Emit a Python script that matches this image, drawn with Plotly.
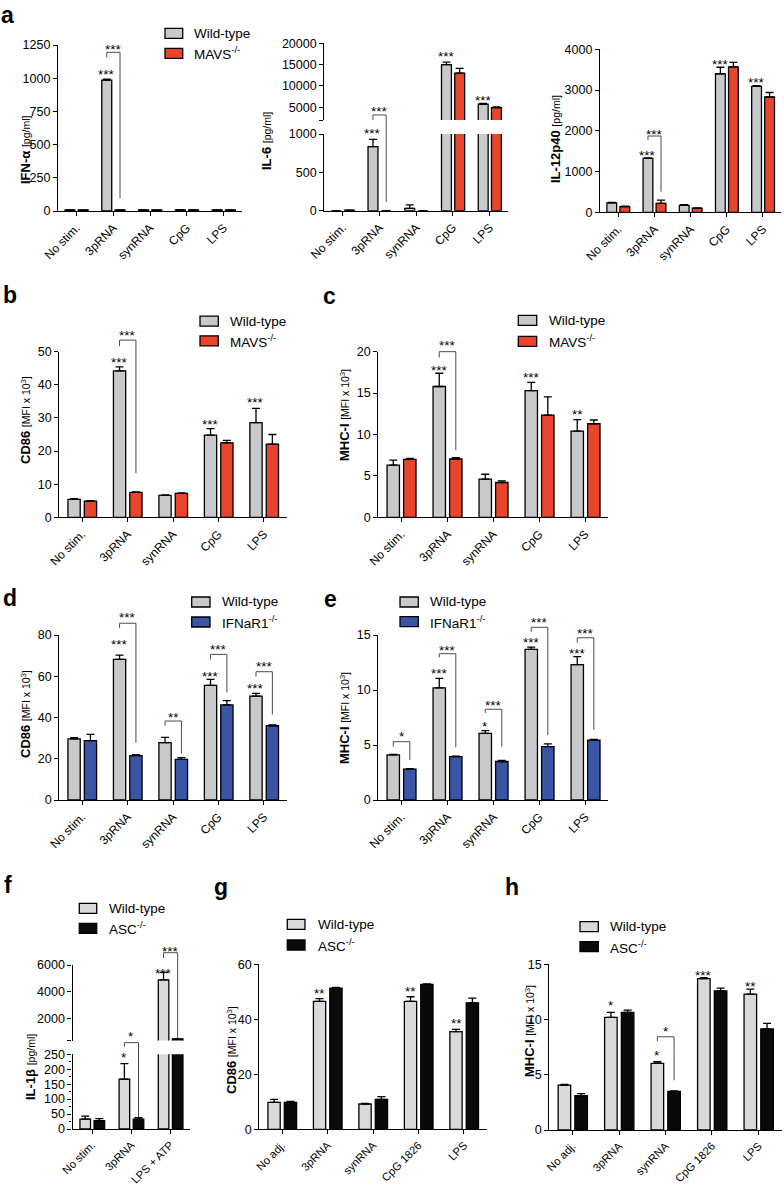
import plotly.graph_objects as go

W, H = 784, 1187
FONT = "Liberation Sans, Arial, Helvetica, sans-serif"

# ------------------------------------------------------------------ data
cats_stim = ["No stim.", "3pRNA", "synRNA", "CpG", "LPS"]
cats_f = ["No stim.", "3pRNA", "LPS + ATP"]
cats_adj = ["No adj.", "3pRNA", "synRNA", "CpG 1826", "LPS"]

# panel a : IFN-alpha, IL-6, IL-12p40 [pg/ml], Wild-type vs MAVS-/-
ifna_wt = [8, 985, 8, 8, 8]
ifna_wt_err = [0, 8, 0, 0, 0]
ifna_ko = [8, 8, 8, 8, 8]
ifna_ko_err = [0, 0, 0, 0, 0]

il6_wt = [0, 835, 30, 15000, 5700]
il6_wt_err = [0, 95, 45, 600, 200]
il6_ko = [8, 0, 0, 13000, 4900]
il6_ko_err = [0, 0, 0, 1100, 150]

il12_wt = [230, 1325, 172, 3400, 3090]
il12_wt_err = [10, 10, 15, 160, 20]
il12_ko = [140, 220, 100, 3570, 2830]
il12_ko_err = [10, 80, 10, 110, 110]

# panel b : CD86 [MFI x 10^3], WT vs MAVS-/-
cd86_b_wt = [5.4, 44.2, 6.6, 24.8, 28.6]
cd86_b_wt_err = [0.2, 1.2, 0.2, 2.0, 4.3]
cd86_b_ko = [4.9, 7.5, 7.2, 22.5, 22.1]
cd86_b_ko_err = [0.1, 0.2, 0.2, 0.7, 2.9]

# panel c : MHC-I [MFI x 10^3], WT vs MAVS-/-
mhc_c_wt = [6.3, 15.8, 4.6, 15.3, 10.4]
mhc_c_wt_err = [0.6, 1.6, 0.6, 1.0, 1.4]
mhc_c_ko = [7.0, 7.04, 4.2, 12.35, 11.3]
mhc_c_ko_err = [0.1, 0.15, 0.2, 2.2, 0.45]

# panel d : CD86, WT vs IFNaR1-/-
cd86_d_wt = [29.6, 68.2, 27.8, 55.6, 50.4]
cd86_d_wt_err = [0.6, 2.0, 2.6, 2.9, 1.3]
cd86_d_ko = [28.8, 21.5, 19.7, 46.1, 36.0]
cd86_d_ko_err = [3.0, 0.5, 0.8, 2.1, 0.4]

# panel e : MHC-I, WT vs IFNaR1-/-
mhc_e_wt = [4.1, 10.2, 6.06, 13.7, 12.3]
mhc_e_wt_err = [0.05, 0.85, 0.25, 0.2, 0.73]
mhc_e_ko = [2.8, 3.94, 3.5, 4.85, 5.45]
mhc_e_ko_err = [0.05, 0.05, 0.1, 0.25, 0.05]

# panel f : IL-1beta [pg/ml], WT vs ASC-/-
il1b_wt = [33, 167, 4900]
il1b_wt_err = [10, 52, 550]
il1b_ko = [28, 33, 520]
il1b_ko_err = [7, 5, 0]

# panel g : CD86, WT vs ASC-/-
cd86_g_wt = [9.8, 46.5, 9.2, 46.5, 35.5]
cd86_g_wt_err = [1.1, 1.0, 0.2, 1.7, 0.85]
cd86_g_ko = [9.8, 51.3, 10.9, 52.7, 46.0]
cd86_g_ko_err = [0.3, 0.3, 1.0, 0.2, 1.7]

# panel h : MHC-I, WT vs ASC-/-
mhc_h_wt = [4.07, 10.2, 6.03, 13.7, 12.3]
mhc_h_wt_err = [0.05, 0.45, 0.15, 0.1, 0.45]
mhc_h_ko = [3.1, 10.65, 3.5, 12.6, 9.15]
mhc_h_ko_err = [0.2, 0.2, 0.05, 0.25, 0.5]

# y tick values
ticks_ifna = [0, 250, 500, 750, 1000, 1250]
ticks_il6_lo = [0, 500, 1000]
ticks_il6_hi = [5000, 10000, 15000, 20000]
break_il6 = [2000]
ticks_il12 = [0, 1000, 2000, 3000, 4000]
ticks_b = [0, 10, 20, 30, 40, 50]
ticks_c = [0, 5, 10, 15, 20]
ticks_d = [0, 20, 40, 60, 80]
ticks_e = [0, 5, 10, 15]
ticks_f_lo = [0, 50, 100, 150, 200, 250]
ticks_f_lo_minor = [25, 75, 125, 175, 225]
ticks_f_hi = [2000, 4000, 6000]
break_f = [400]
ticks_g = [0, 20, 40, 60]
ticks_h = [0, 5, 10, 15]

# ------------------------------------------------------------------ style
GRAY = "#c8c9cb"
GRAY_L = "#d9d9d9"
RED = "#e8452d"
BLUE = "#3a55a5"
BLACK = "#0a0a0a"
BW, WT_OFF, KO_OFF = 0.27, -0.31, 0.05

fig = go.Figure()
axes = {}
lay = {}


def add_axis(n, xdom, ydom, yrange, tickvals, cats, show_x=True, minor=None, minorlen=2,
             xfont=12):
    xa, ya = ("x", "y") if n == 1 else (f"x{n}", f"y{n}")
    xk, yk = ("xaxis", "yaxis") if n == 1 else (f"xaxis{n}", f"yaxis{n}")
    lay[xk] = dict(domain=[xdom[0] / W, xdom[1] / W], range=[-0.5, len(cats) - 0.5],
                   anchor=ya, tickmode="array", tickvals=list(range(len(cats))), ticktext=cats,
                   tickangle=-45, ticks="outside", ticklen=4, tickwidth=1.2, tickcolor="black",
                   showline=True, linecolor="black", linewidth=1.3, showgrid=False,
                   zeroline=False, visible=show_x, automargin=False,
                   tickfont=dict(family=FONT, size=xfont, color="black"))
    yd = dict(domain=[1 - ydom[0] / H, 1 - ydom[1] / H], range=yrange, anchor=xa,
              tickmode="array", tickvals=tickvals, ticktext=[str(v) for v in tickvals],
              ticks="outside", ticklen=4, tickwidth=1.2, tickcolor="black", showline=True,
              linecolor="black", linewidth=1.3, showgrid=False, zeroline=False,
              automargin=False, tickfont=dict(family=FONT, size=12.5, color="black"))
    if minor:
        yd["minor"] = dict(tickvals=minor, ticks="outside", ticklen=minorlen, tickwidth=1.2,
                           tickcolor="black", showgrid=False)
    lay[yk] = yd
    axes[n] = dict(xa=xa, ya=ya, ydom=ydom, yrange=yrange)


def add_bars(n, wt, wterr, ko, koerr, c_wt, c_ko):
    xs = list(range(len(wt)))
    for vals, errs, off, col in ((wt, wterr, WT_OFF, c_wt), (ko, koerr, KO_OFF, c_ko)):
        fig.add_trace(go.Bar(
            x=xs, y=vals, width=BW, offset=off,
            marker=dict(color=col, line=dict(color="black", width=1.3)),
            error_y=dict(type="data", symmetric=False, array=errs,
                         arrayminus=[0] * len(vals), color="black", thickness=1.3, width=4),
            xaxis=axes[n]["xa"], yaxis=axes[n]["ya"], showlegend=False, hoverinfo="skip"))


def yp(n, v):
    a = axes[n]
    p0, p1 = a["ydom"]
    r0, r1 = a["yrange"]
    return 1 - (p0 + (v - r0) / (r1 - r0) * (p1 - p0)) / H


wt_c = lambda i: i + WT_OFF + BW / 2
ko_c = lambda i: i + KO_OFF + BW / 2

annotations = []
shapes = []


def star(n, i, v, text):
    annotations.append(dict(x=wt_c(i), y=yp(n, v), xref=axes[n]["xa"], yref="paper",
                            text=text, showarrow=False, xanchor="center", yanchor="middle",
                            yshift=-3, font=dict(family=FONT, size=13.5, color="black")))


def bracket(n, i, ytop, yl, yr, text, ylab):
    x0, x1 = wt_c(i), ko_c(i)
    shapes.append(dict(type="path", xref=axes[n]["xa"], yref="paper",
                       path=f"M{x0},{yp(n, yl)} L{x0},{yp(n, ytop)} L{x1},{yp(n, ytop)} L{x1},{yp(n, yr)}",
                       line=dict(color="#4a4a4a", width=1)))
    annotations.append(dict(x=(x0 + x1) / 2, y=yp(n, ylab), xref=axes[n]["xa"], yref="paper",
                            text=text, showarrow=False, xanchor="center", yanchor="middle",
                            yshift=-3, font=dict(family=FONT, size=13.5, color="black")))


def legend(bx0, bx1, yc1, yc2, tx, c1, c2, t1, t2):
    for yc, col, t in ((yc1, c1, t1), (yc2, c2, t2)):
        shapes.append(dict(type="rect", xref="paper", yref="paper", x0=bx0 / W, x1=bx1 / W,
                           y0=1 - (yc - 5) / H, y1=1 - (yc + 5) / H, fillcolor=col,
                           line=dict(color="black", width=1.3)))
        annotations.append(dict(x=tx / W, y=1 - yc / H, xref="paper", yref="paper", text=t,
                                showarrow=False, xanchor="left", yanchor="middle",
                                font=dict(family=FONT, size=13.5, color="black")))


def ytitle(x, y, bold, rest):
    annotations.append(dict(x=x / W, y=1 - y / H, xref="paper", yref="paper", textangle=-90,
                            text=f"<b>{bold}</b> <span style='font-size:10.5px'>{rest}</span>",
                            showarrow=False, xanchor="center", yanchor="middle",
                            font=dict(family=FONT, size=13, color="black")))


def letter(x, y, t, anchor="middle"):
    annotations.append(dict(x=x / W, y=1 - y / H, xref="paper", yref="paper", text=f"<b>{t}</b>",
                            showarrow=False, xanchor="center", yanchor=anchor,
                            font=dict(family=FONT, size=23, color="black")))


# ------------------------------------------------------------------ axes
add_axis(1, (58, 242), (211, 45), [0, 1250], ticks_ifna, cats_stim)
add_axis(2, (324.3, 508), (210.7, 134), [0, 1000], ticks_il6_lo, cats_stim)
add_axis(3, (324.3, 508), (120, 43.3), [2000, 20000], ticks_il6_hi, cats_stim, show_x=False,
         minor=break_il6, minorlen=4)
add_axis(4, (600, 781), (212.3, 49.3), [0, 4000], ticks_il12, cats_stim)
add_axis(5, (59.3, 286.7), (517.3, 351.7), [0, 50], ticks_b, cats_stim)
add_axis(6, (378.3, 608.3), (517.3, 351.7), [0, 20], ticks_c, cats_stim)
add_axis(7, (59.3, 286.7), (800, 635), [0, 80], ticks_d, cats_stim)
add_axis(8, (378.3, 608.3), (800, 635), [0, 15], ticks_e, cats_stim)
add_axis(9, (72.5, 190), (1129, 1054.3), [0, 250], ticks_f_lo, cats_f, minor=ticks_f_lo_minor,
         xfont=11.2)
add_axis(10, (72.5, 190), (1040.5, 965), [400, 6000], ticks_f_hi, cats_f, show_x=False,
         minor=break_f, minorlen=4)
add_axis(11, (259.3, 486.7), (1129.3, 964.3), [0, 60], ticks_g, cats_adj, xfont=11.2)
add_axis(12, (549.3, 781.7), (1130, 964.3), [0, 15], ticks_h, cats_adj, xfont=11.2)

# ------------------------------------------------------------------ bars
add_bars(1, ifna_wt, ifna_wt_err, ifna_ko, ifna_ko_err, GRAY, RED)
add_bars(2, il6_wt, il6_wt_err, il6_ko, il6_ko_err, GRAY, RED)
add_bars(3, il6_wt, il6_wt_err, il6_ko, il6_ko_err, GRAY, RED)
add_bars(4, il12_wt, il12_wt_err, il12_ko, il12_ko_err, GRAY, RED)
add_bars(5, cd86_b_wt, cd86_b_wt_err, cd86_b_ko, cd86_b_ko_err, GRAY, RED)
add_bars(6, mhc_c_wt, mhc_c_wt_err, mhc_c_ko, mhc_c_ko_err, GRAY, RED)
add_bars(7, cd86_d_wt, cd86_d_wt_err, cd86_d_ko, cd86_d_ko_err, GRAY, BLUE)
add_bars(8, mhc_e_wt, mhc_e_wt_err, mhc_e_ko, mhc_e_ko_err, GRAY, BLUE)
add_bars(9, il1b_wt, il1b_wt_err, il1b_ko, il1b_ko_err, GRAY_L, BLACK)
add_bars(10, il1b_wt, il1b_wt_err, il1b_ko, il1b_ko_err, GRAY_L, BLACK)
add_bars(11, cd86_g_wt, cd86_g_wt_err, cd86_g_ko, cd86_g_ko_err, GRAY_L, BLACK)
add_bars(12, mhc_h_wt, mhc_h_wt_err, mhc_h_ko, mhc_h_ko_err, GRAY_L, BLACK)

# ------------------------------------------------------------------ significance marks
star(1, 1, 1049, "***"); bracket(1, 1, 1195, 1157, 96, "***", 1237)
star(2, 1, 1052, "***"); bracket(2, 1, 1248, 1183, 117, "***", 1335)
star(3, 3, 17654, "***"); star(3, 4, 7328, "***")
star(4, 1, 1463, "***"); bracket(4, 1, 1872, 1774, 506, "***", 1995)
star(4, 3, 3696, "***"); star(4, 4, 3264, "***")
star(5, 1, 47.5, "***"); bracket(5, 1, 53.5, 51.7, 13.3, "***", 55.7)
star(5, 3, 28.9, "***"); star(5, 4, 35.6, "***")
star(6, 1, 18.1, "***"); bracket(6, 1, 20.0, 19.3, 8.1, "***", 21.1)
star(6, 3, 17.2, "***"); star(6, 4, 12.8, "**")
star(7, 1, 76.7, "***"); bracket(7, 1, 85.7, 83.5, 27.8, "***", 89.7)
bracket(7, 2, 38.3, 36.0, 22.6, "**", 41.5)
star(7, 3, 61.4, "***"); bracket(7, 3, 70.6, 68.2, 52.2, "***", 74.3)
star(7, 4, 55.6, "***"); bracket(7, 4, 62.2, 59.8, 41.5, "***", 66.3)
bracket(8, 0, 5.3, 4.85, 3.64, "*", 6.06)
star(8, 1, 11.8, "***"); bracket(8, 1, 13.3, 12.97, 4.8, "***", 13.9)
star(8, 2, 6.97, "*"); bracket(8, 2, 8.25, 7.9, 4.85, "***", 8.85)
star(8, 3, 14.55, "***"); bracket(8, 3, 15.7, 15.3, 5.9, "***", 16.4)
star(8, 4, 13.6, "***"); bracket(8, 4, 14.75, 14.3, 6.4, "***", 15.4)
star(9, 1, 248, "*"); bracket(9, 1, 289, 275, 40, "*", 321)
star(10, 2, 5629, "***"); bracket(10, 2, 6912, 6519, 585, "***", 7187)
star(11, 1, 50.6, "**"); star(11, 3, 51.3, "**"); star(11, 4, 39.4, "**")
star(12, 1, 11.5, "*"); star(12, 2, 7.0, "*"); bracket(12, 2, 8.44, 8.05, 4.5, "*", 9.2)
star(12, 3, 14.3, "***"); star(12, 4, 13.3, "**")

# ------------------------------------------------------------------ legends
MAVS = "MAVS<sup>-/-</sup>"
IFNAR = "IFNaR1<sup>-/-</sup>"
ASC = "ASC<sup>-/-</sup>"
legend(165, 182.7, 33.3, 53.3, 191.7, GRAY, RED, "Wild-type", MAVS)
legend(200, 218.3, 321.2, 340.8, 228.3, GRAY, RED, "Wild-type", MAVS)
legend(518.3, 536.7, 320.3, 341.3, 546.7, GRAY, RED, "Wild-type", MAVS)
legend(191.7, 210, 602, 622, 220, GRAY, BLUE, "Wild-type", IFNAR)
legend(400, 418.3, 602, 621.7, 428.3, GRAY, BLUE, "Wild-type", IFNAR)
legend(79.3, 96.7, 908.3, 928.3, 106.7, GRAY_L, BLACK, "Wild-type", ASC)
legend(287.3, 305, 924.3, 945, 316, GRAY_L, BLACK, "Wild-type", ASC)
legend(580, 598.3, 926.7, 946.7, 608.3, GRAY_L, BLACK, "Wild-type", ASC)

# ------------------------------------------------------------------ axis titles
ytitle(25, 150, "IFN-α", "[pg/ml]")
ytitle(266, 141, "IL-6", "[pg/ml]")
ytitle(555, 139, "IL-12p40", "[pg/ml]")
ytitle(25, 420, "CD86", "[MFI x 10<sup>3</sup>]")
ytitle(344, 415, "MHC-I", "[MFI x 10<sup>3</sup>]")
ytitle(25, 714, "CD86", "[MFI x 10<sup>3</sup>]")
ytitle(344, 718, "MHC-I", "[MFI x 10<sup>3</sup>]")
ytitle(30, 1067, "IL-1β", "[pg/ml]")
ytitle(231, 1050, "CD86", "[MFI x 10<sup>3</sup>]")
ytitle(529, 1031, "MHC-I", "[MFI x 10<sup>3</sup>]")

# ------------------------------------------------------------------ panel letters
letter(8, 0, "a", anchor="top")
letter(10, 295, "b")
letter(329, 296, "c")
letter(10, 598, "d")
letter(330, 599, "e")
letter(8, 885, "f")
letter(221, 887, "g")
letter(512, 887, "h")

fig.update_layout(template="none", width=W, height=H, margin=dict(l=0, r=0, t=0, b=0, pad=0),
                  paper_bgcolor="white", plot_bgcolor="white", barmode="overlay",
                  showlegend=False, annotations=annotations, shapes=shapes,
                  font=dict(family=FONT, color="black"), **lay)
fig.write_html("out.html", config={"displayModeBar": False},
               post_script="document.body.style.margin='0px';")
